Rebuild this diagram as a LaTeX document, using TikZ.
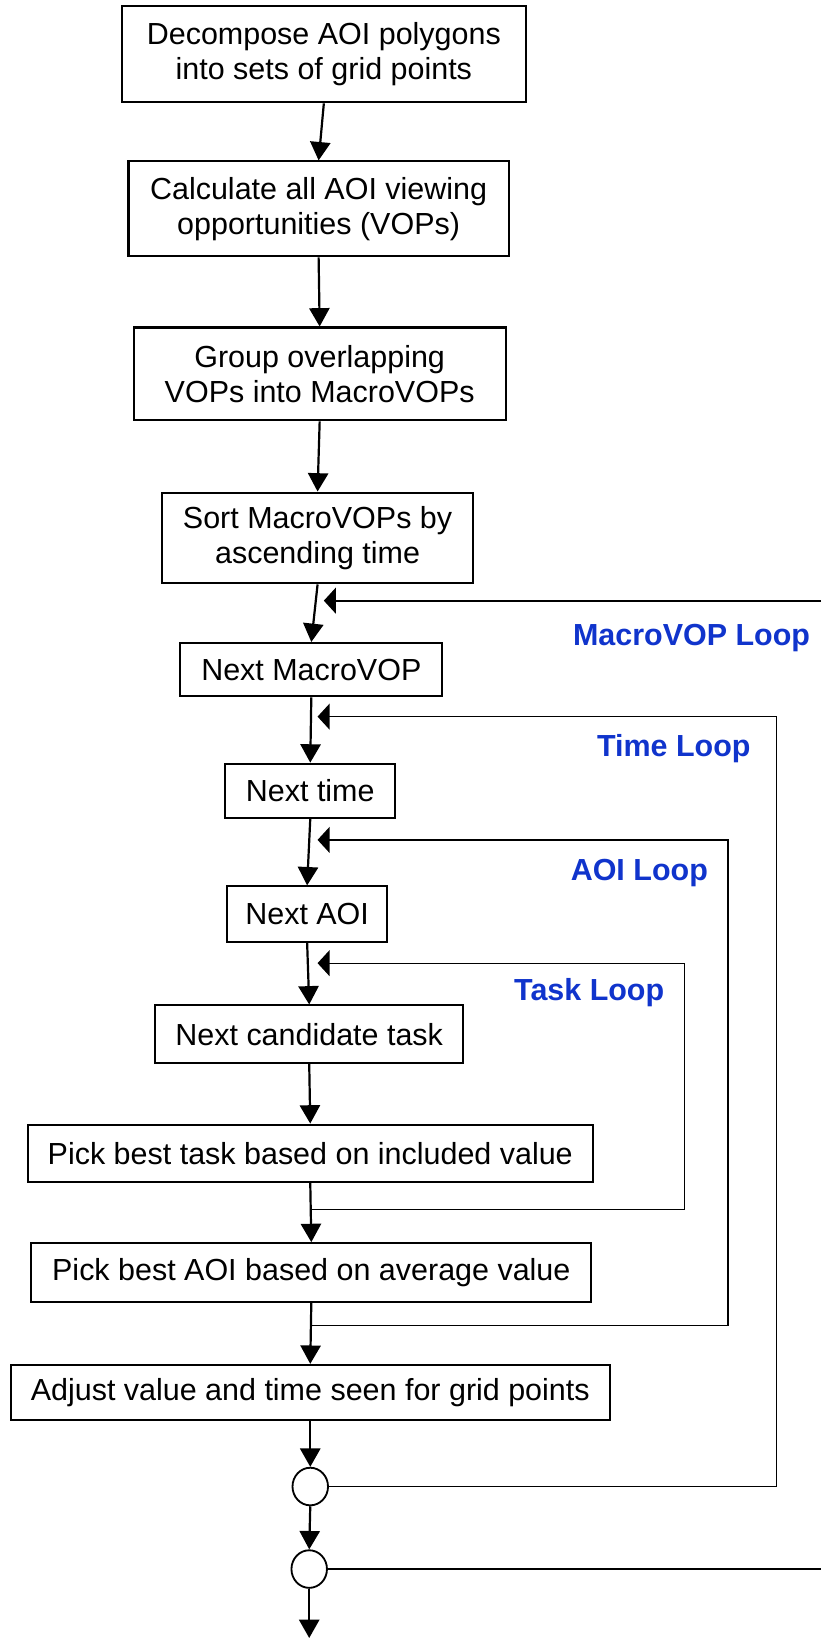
\documentclass[tikz,border=0pt]{standalone}
\usepackage{fontspec}
\setmainfont{Liberation Sans}
\usetikzlibrary{calc,arrows.meta,shapes.geometric}
\definecolor{loopblue}{RGB}{16,52,204}

\begin{document}
\begin{tikzpicture}[x=0.02cm, y=-0.02cm, font=\fontsize{16.6}{18.8}\selectfont,
  box/.style={draw, line width=1.1pt, align=center, inner sep=0pt},
  flow/.style={-{Triangle[length=10pt,width=11pt]}, line width=1.2pt},
  back/.style={-{Triangle[length=6.5pt,width=14pt]}, line width=0.7pt},
  looplabel/.style={font=\fontsize{16.6}{18}\selectfont\bfseries, text=loopblue},
  joint/.style={draw, line width=1pt, ellipse, minimum width=0.68cm, minimum height=0.72cm, inner sep=0pt}]

  \useasboundingbox (0,0) rectangle (786,1568);

  % ---- Set-up steps ----
  \node[box, minimum width=387*0.02cm, minimum height=92*0.02cm] (decomp) at (310,52)  {Decompose AOI polygons\\into sets of grid points};
  \node[box, minimum width=364*0.02cm, minimum height=91*0.02cm] (calcvop) at (305,200) {Calculate all AOI viewing\\opportunities (VOPs)};
  \node[box, minimum width=356*0.02cm, minimum height=89*0.02cm] (group) at (306,358) {Group overlapping\\VOPs into MacroVOPs};
  \node[box, minimum width=298*0.02cm, minimum height=87*0.02cm] (sort) at (304,515) {Sort MacroVOPs by\\ascending time};

  % ---- Nested loop steps ----
  \node[box, minimum width=251*0.02cm, minimum height=51*0.02cm] (nextmv) at (298,641) {Next MacroVOP};
  \node[box, minimum width=163*0.02cm, minimum height=52*0.02cm] (nexttime) at (297,757) {Next time};
  \node[box, minimum width=153*0.02cm, minimum height=53*0.02cm] (nextaoi) at (294,875) {Next AOI};
  \node[box, minimum width=295*0.02cm, minimum height=55*0.02cm] (nexttask) at (296,990) {Next candidate task};
  \node[box, minimum width=541*0.02cm, minimum height=55*0.02cm] (picktask) at (297,1104) {Pick best task based on included value};
  \node[box, minimum width=536*0.02cm, minimum height=56*0.02cm] (pickaoi) at (298,1218) {Pick best AOI based on average value};
  \node[box, minimum width=573*0.02cm, minimum height=53*0.02cm] (adjust) at (297,1333) {Adjust value and time seen for grid points};

  % Loop ends
  \node[joint] (endtime) at (297,1423) {};
  \node[joint] (endmv) at (296,1502) {};
  \coordinate (exit) at (296,1568);

  % ---- Main flow ----
  \draw[flow] (decomp.south) -- (calcvop.north);
  \draw[flow] (calcvop.south) -- (group.north);
  \draw[flow] (group.south) -- (sort.north);
  \draw[flow] (sort.south) -- (nextmv.north);
  \draw[flow] (nextmv.south) -- (nexttime.north);
  \draw[flow] (nexttime.south) -- (nextaoi.north);
  \draw[flow] (nextaoi.south) -- (nexttask.north);
  \draw[flow] (nexttask.south) -- (picktask.north);
  \draw[flow] (picktask.south) -- (pickaoi.north);
  \draw[flow] (pickaoi.south) -- (adjust.north);
  \draw[flow] (adjust.south) -- (endtime.north);
  \draw[flow] (endtime.south) -- (endmv.north);
  \draw[flow] (endmv.south) -- (exit);

  % ---- Return lines ----
  \coordinate (mvin) at (310,575);
  \coordinate (mvedge) at (786,575);
  \coordinate (mvout) at (786,1502);
  \draw[back, line width=1pt] (mvedge) -- (mvin);
  \draw[line width=1pt] (endmv.east) -- (mvout);

  \coordinate (timein) at (304,686);
  \coordinate (timeright) at (743,686);
  \draw[back] (endtime.east) -| (timeright) -- (timein);

  \coordinate (aoiin) at (304,804);
  \coordinate (aoiright) at (697,804);
  \coordinate (aoiout) at ($(pickaoi.south)+(0,22)$);
  \draw[back] (aoiout) -| (aoiright) -- (aoiin);

  \coordinate (taskin) at (304,922);
  \coordinate (taskright) at (655,922);
  \coordinate (taskout) at ($(picktask.south)+(0,25)$);
  \draw[back] (taskout) -| (taskright) -- (taskin);

  % Loop labels
  \node[looplabel] (mvlabel) at (662,611) {MacroVOP Loop};
  \node[looplabel] (timelabel) at (645,717) {Time Loop};
  \node[looplabel] (aoilabel) at (612,836) {AOI Loop};
  \node[looplabel] (tasklabel) at (564,950) {Task Loop};

\end{tikzpicture}
\end{document}
